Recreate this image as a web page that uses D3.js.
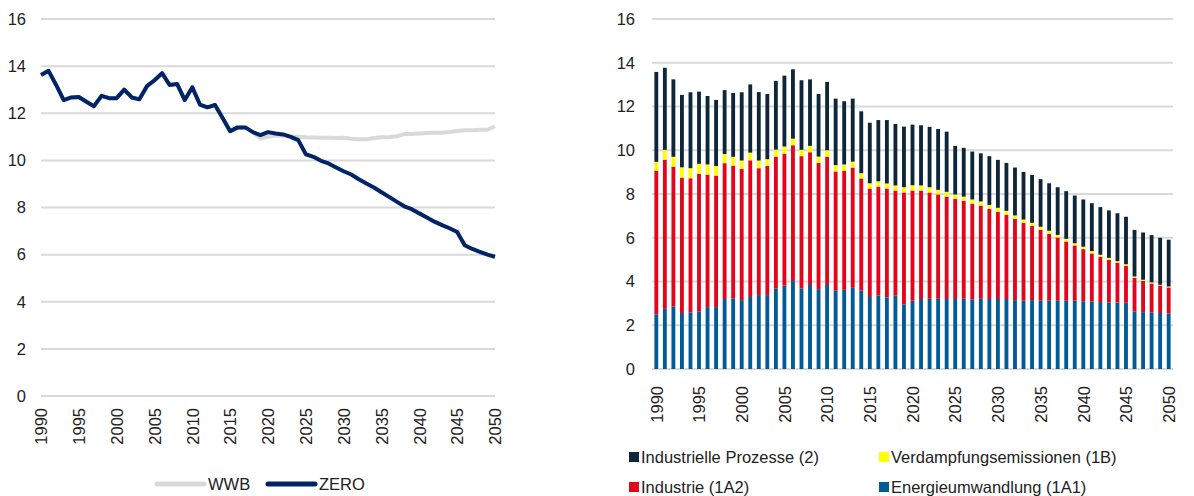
<!DOCTYPE html>
<html>
<head>
<meta charset="utf-8">
<style>
    body { margin: 0; background: #fff; }
    svg { font-family: "Liberation Sans", Arial, sans-serif; }
    .tick text { font-size: 16.5px; fill: #222; }
    .grid line { stroke: #d9d9d9; stroke-width: 2; }
    .legend text { font-size: 16.5px; fill: #222; }
</style>
</head>
<body>
<svg width="1194" height="496"></svg>
<script src="https://d3js.org/d3.v7.min.js"></script>
<script>
    let years = d3.range(1990, 2051)

    // left chart: total emissions per scenario
    let zero = [13.62, 13.8, 13.2, 12.56, 12.67, 12.69, 12.49, 12.3, 12.74, 12.64,
        12.64, 13.0, 12.67, 12.59, 13.15, 13.4, 13.7, 13.2, 13.24, 12.56,
        13.1, 12.37, 12.25, 12.35, 11.8, 11.24, 11.4, 11.4, 11.2, 11.07,
        11.2, 11.14, 11.1, 11.0, 10.86, 10.26, 10.15, 9.98, 9.87, 9.7,
        9.54, 9.4, 9.2, 9.02, 8.85, 8.65, 8.45, 8.25, 8.05, 7.93,
        7.75, 7.58, 7.4, 7.25, 7.12, 6.96, 6.4, 6.24, 6.12, 6.0, 5.91]

    let wwb = [13.62, 13.8, 13.2, 12.56, 12.67, 12.69, 12.49, 12.3, 12.74, 12.64,
        12.64, 13.0, 12.67, 12.59, 13.15, 13.4, 13.7, 13.2, 13.24, 12.56,
        13.1, 12.37, 12.25, 12.35, 11.8, 11.24, 11.4, 11.4, 11.2, 10.93,
        11.0, 11.05, 11.05, 11.02, 11.0, 10.98, 10.97, 10.96, 10.96, 10.95,
        10.96, 10.92, 10.9, 10.9, 10.95, 10.98, 10.98, 11.02, 11.12, 11.12,
        11.14, 11.16, 11.17, 11.17, 11.2, 11.25, 11.28, 11.28, 11.3, 11.3, 11.45]

    // right chart: sectors
    let energie = [2.5, 2.75, 2.86, 2.56, 2.59, 2.62, 2.83, 2.83, 3.2, 3.23,
        3.15, 3.29, 3.38, 3.38, 3.67, 3.81, 4.02, 3.68, 3.84, 3.65,
        3.84, 3.58, 3.62, 3.71, 3.58, 3.29, 3.36, 3.27, 3.35, 2.95,
        3.12, 3.2, 3.21, 3.21, 3.2, 3.2, 3.21, 3.18, 3.21, 3.2,
        3.2, 3.2, 3.15, 3.12, 3.15, 3.14, 3.12, 3.14, 3.12, 3.12,
        3.1, 3.09, 3.06, 3.04, 3.04, 3.03, 2.63, 2.6, 2.59, 2.56, 2.54]
    let industrie = [6.57, 6.82, 6.39, 6.19, 6.13, 6.31, 6.06, 6.01, 6.21, 6.07,
        6.0, 6.25, 5.8, 5.9, 6.04, 6.04, 6.21, 6.05, 6.07, 5.77,
        5.87, 5.45, 5.45, 5.5, 5.13, 4.96, 4.98, 4.98, 4.81, 5.12,
        5.04, 4.96, 4.86, 4.77, 4.68, 4.58, 4.48, 4.38, 4.26, 4.12,
        3.98, 3.85, 3.71, 3.56, 3.39, 3.22, 3.06, 2.87, 2.71, 2.53,
        2.38, 2.19, 2.07, 1.95, 1.82, 1.69, 1.54, 1.43, 1.32, 1.26, 1.19]
    let verdampfung = [0.4, 0.45, 0.45, 0.47, 0.46, 0.45, 0.46, 0.44, 0.42, 0.4,
        0.38, 0.35, 0.35, 0.31, 0.32, 0.32, 0.3, 0.29, 0.29, 0.29,
        0.29, 0.29, 0.28, 0.27, 0.24, 0.24, 0.24, 0.23, 0.23, 0.24,
        0.24, 0.23, 0.24, 0.21, 0.22, 0.2, 0.19, 0.19, 0.19, 0.18,
        0.19, 0.18, 0.16, 0.15, 0.14, 0.14, 0.14, 0.12, 0.12, 0.1,
        0.11, 0.11, 0.09, 0.09, 0.07, 0.07, 0.06, 0.05, 0.05, 0.03, 0.04]
    let prozesse = [4.11, 3.75, 3.54, 3.31, 3.47, 3.3, 3.13, 3.02, 2.92, 2.92,
        3.12, 3.12, 3.13, 2.98, 3.14, 3.24, 3.17, 3.18, 3.04, 2.86,
        3.12, 3.04, 2.89, 2.88, 2.83, 2.77, 2.8, 2.9, 2.81, 2.77,
        2.77, 2.75, 2.76, 2.78, 2.75, 2.22, 2.23, 2.19, 2.2, 2.23,
        2.19, 2.19, 2.19, 2.18, 2.19, 2.18, 2.17, 2.18, 2.18, 2.18,
        2.16, 2.19, 2.18, 2.17, 2.19, 2.17, 2.13, 2.16, 2.16, 2.15, 2.14]

    let yTicks = [0, 2, 4, 6, 8, 10, 12, 14, 16]
    let xTicks = [1990, 1995, 2000, 2005, 2010, 2015, 2020, 2025, 2030, 2035, 2040, 2045, 2050]

    let keys = ["energie", "industrie", "verdampfung", "prozesse"]
    let labels = {
        prozesse: "Industrielle Prozesse (2)",
        verdampfung: "Verdampfungsemissionen (1B)",
        industrie: "Industrie (1A2)",
        energie: "Energieumwandlung (1A1)"
    }
    let colors = {
        energie: "#005b96",
        industrie: "#e3051b",
        verdampfung: "#ffff00",
        prozesse: "#0e2639"
    }

    let svg = d3.select("svg")

    // ---------- left: line chart ----------
    let left = svg.append("g")

    let x1 = d3.scaleLinear().domain([1990, 2050]).range([41, 495])
    let y1 = d3.scaleLinear().domain([0, 16]).range([396, 19])

    left.append("g")
        .attr("class", "grid")
        .selectAll("line")
        .data(yTicks)
        .join("line")
        .attr("x1", 41).attr("x2", 495)
        .attr("y1", d => y1(d)).attr("y2", d => y1(d))

    left.append("g")
        .attr("transform", "translate(41,0)")
        .call(d3.axisLeft(y1).tickValues(yTicks).tickSize(0).tickPadding(15))
        .call(g => g.select(".domain").remove())

    left.append("g")
        .attr("transform", "translate(0,405)")
        .call(d3.axisBottom(x1).tickValues(xTicks).tickFormat(d3.format("d")).tickSize(0).tickPadding(0))
        .call(g => g.select(".domain").remove())
        .selectAll("text")
        .attr("transform", "rotate(-90)")
        .attr("text-anchor", "end")
        .attr("x", -3)
        .attr("y", 0)
        .attr("dy", "0.35em")

    let line = d3.line()
        .x((d, i) => x1(years[i]))
        .y(d => y1(d))

    left.append("path")
        .datum(wwb)
        .attr("fill", "none")
        .attr("stroke", "#d9d9d9")
        .attr("stroke-width", 4)
        .attr("stroke-linejoin", "round")
        .attr("d", line)

    left.append("path")
        .datum(zero)
        .attr("fill", "none")
        .attr("stroke", "#002466")
        .attr("stroke-width", 4)
        .attr("stroke-linejoin", "round")
        .attr("d", line)

    let lg1 = left.append("g").attr("class", "legend")
    let lineLegend = [
        { name: "WWB", color: "#d9d9d9", x: 157 },
        { name: "ZERO", color: "#002466", x: 268 }
    ]
    lineLegend.forEach(d => {
        lg1.append("line")
            .attr("x1", d.x).attr("x2", d.x + 47)
            .attr("y1", 484).attr("y2", 484)
            .attr("stroke", d.color)
            .attr("stroke-width", 5)
            .attr("stroke-linecap", "round")
        lg1.append("text")
            .attr("x", d.x + 51)
            .attr("y", 490)
            .text(d.name)
    })

    // ---------- right: stacked bars ----------
    let right = svg.append("g")

    let x2 = d3.scaleBand().domain(years).range([652, 1173]).paddingInner(0.55).paddingOuter(0.28)
    let y2 = d3.scaleLinear().domain([0, 16]).range([369, 19])

    right.append("g")
        .attr("class", "grid")
        .selectAll("line")
        .data(yTicks)
        .join("line")
        .attr("x1", 652).attr("x2", 1173)
        .attr("y1", d => y2(d)).attr("y2", d => y2(d))

    right.append("g")
        .attr("transform", "translate(652,0)")
        .call(d3.axisLeft(y2).tickValues(yTicks).tickSize(0).tickPadding(17))
        .call(g => g.select(".domain").remove())

    let table = years.map((yr, i) => ({
        year: yr,
        energie: energie[i],
        industrie: industrie[i],
        verdampfung: verdampfung[i],
        prozesse: prozesse[i]
    }))

    let series = d3.stack().keys(keys)(table)

    right.append("g")
        .selectAll("g")
        .data(series)
        .join("g")
        .attr("fill", d => colors[d.key])
        .selectAll("rect")
        .data(d => d)
        .join("rect")
        .attr("x", d => x2(d.data.year))
        .attr("width", x2.bandwidth())
        .attr("y", d => y2(d[1]))
        .attr("height", d => y2(d[0]) - y2(d[1]))

    let x2lin = d3.scaleLinear().domain([1990, 2050])
        .range([x2(1990) + x2.bandwidth() / 2, x2(2050) + x2.bandwidth() / 2])

    right.append("g")
        .attr("transform", "translate(0,383)")
        .call(d3.axisBottom(x2lin).tickValues(xTicks).tickFormat(d3.format("d")).tickSize(0).tickPadding(0))
        .call(g => g.select(".domain").remove())
        .selectAll("text")
        .attr("transform", "rotate(-90)")
        .attr("text-anchor", "end")
        .attr("x", -3)
        .attr("y", 0)
        .attr("dy", "0.35em")

    let lg2 = right.append("g").attr("class", "legend")
    let barLegend = [
        { key: "prozesse", x: 629, y: 457 },
        { key: "verdampfung", x: 879, y: 457 },
        { key: "industrie", x: 629, y: 487 },
        { key: "energie", x: 879, y: 487 }
    ]
    barLegend.forEach(d => {
        lg2.append("rect")
            .attr("x", d.x).attr("y", d.y - 5)
            .attr("width", 10).attr("height", 10)
            .attr("fill", colors[d.key])
        lg2.append("text")
            .attr("x", d.x + 12)
            .attr("y", d.y + 6)
            .text(labels[d.key])
    })
</script>
</body>
</html>
